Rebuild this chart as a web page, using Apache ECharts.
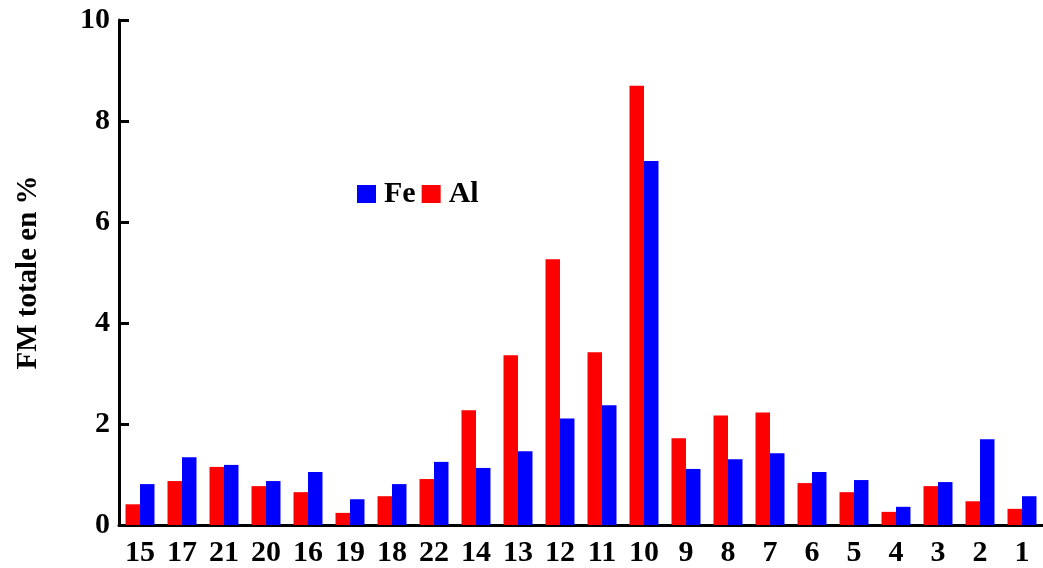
<!DOCTYPE html>
<html>
<head>
<meta charset="utf-8">
<script src="https://cdn.jsdelivr.net/npm/echarts@6/dist/echarts.min.js"></script>
<style>html,body{margin:0;padding:0;background:#fff}#c{width:1043px;height:568px}</style>
</head>
<body>
<div id="c"></div>
<script>
const categories = ['15','17','21','20','16','19','18','22','14','13','12','11','10','9','8','7','6','5','4','3','2','1'];
const alValues = [0.41,0.87,1.15,0.77,0.65,0.24,0.57,0.91,2.27,3.36,5.26,3.42,8.70,1.72,2.17,2.23,0.83,0.65,0.26,0.77,0.47,0.32];
const feValues = [0.81,1.34,1.19,0.87,1.05,0.51,0.81,1.25,1.13,1.46,2.11,2.37,7.21,1.11,1.30,1.42,1.05,0.89,0.36,0.85,1.70,0.57];
const yTicks = [0,2,4,6,8,10];

const font = 'Liberation Serif';
const chart = echarts.init(document.getElementById('c'), null, {renderer:'canvas'});
chart.setOption({
  animation:false,
  backgroundColor:'#fff',
  grid:{left:119,right:0,top:20,bottom:42,containLabel:false},
  legend:{
    data:['Fe','Al'],
    left:352, top:174,
    itemWidth:19, itemHeight:18, itemGap:6,
    icon:'rect',
    textStyle:{fontFamily:font,fontWeight:'bold',fontSize:30,color:'#000',padding:[0,0,0,3]}
  },
  xAxis:{
    type:'category',
    data:categories,
    axisLine:{lineStyle:{color:'#000',width:3}},
    axisTick:{show:false},
    axisLabel:{fontFamily:font,fontWeight:'bold',fontSize:30,color:'#000',margin:13,interval:0}
  },
  yAxis:{
    type:'value',
    min:yTicks[0], max:yTicks[yTicks.length-1], interval:2,
    name:'FM totale en %',
    nameLocation:'middle',
    nameGap:76,
    nameTextStyle:{fontFamily:font,fontWeight:'bold',fontSize:29,color:'#000'},
    axisLine:{show:true,lineStyle:{color:'#000',width:3}},
    axisTick:{show:true,inside:true,length:10,lineStyle:{color:'#000',width:3}},
    splitLine:{show:false},
    axisLabel:{fontFamily:font,fontWeight:'bold',fontSize:30,color:'#000',margin:9}
  },
  series:[
    {name:'Al',type:'bar',data:alValues,itemStyle:{color:'#ff0000'},barGap:'0%',barCategoryGap:'31%'},
    {name:'Fe',type:'bar',data:feValues,itemStyle:{color:'#0000ff'},barGap:'0%',barCategoryGap:'31%'}
  ]
});
</script>
</body>
</html>
